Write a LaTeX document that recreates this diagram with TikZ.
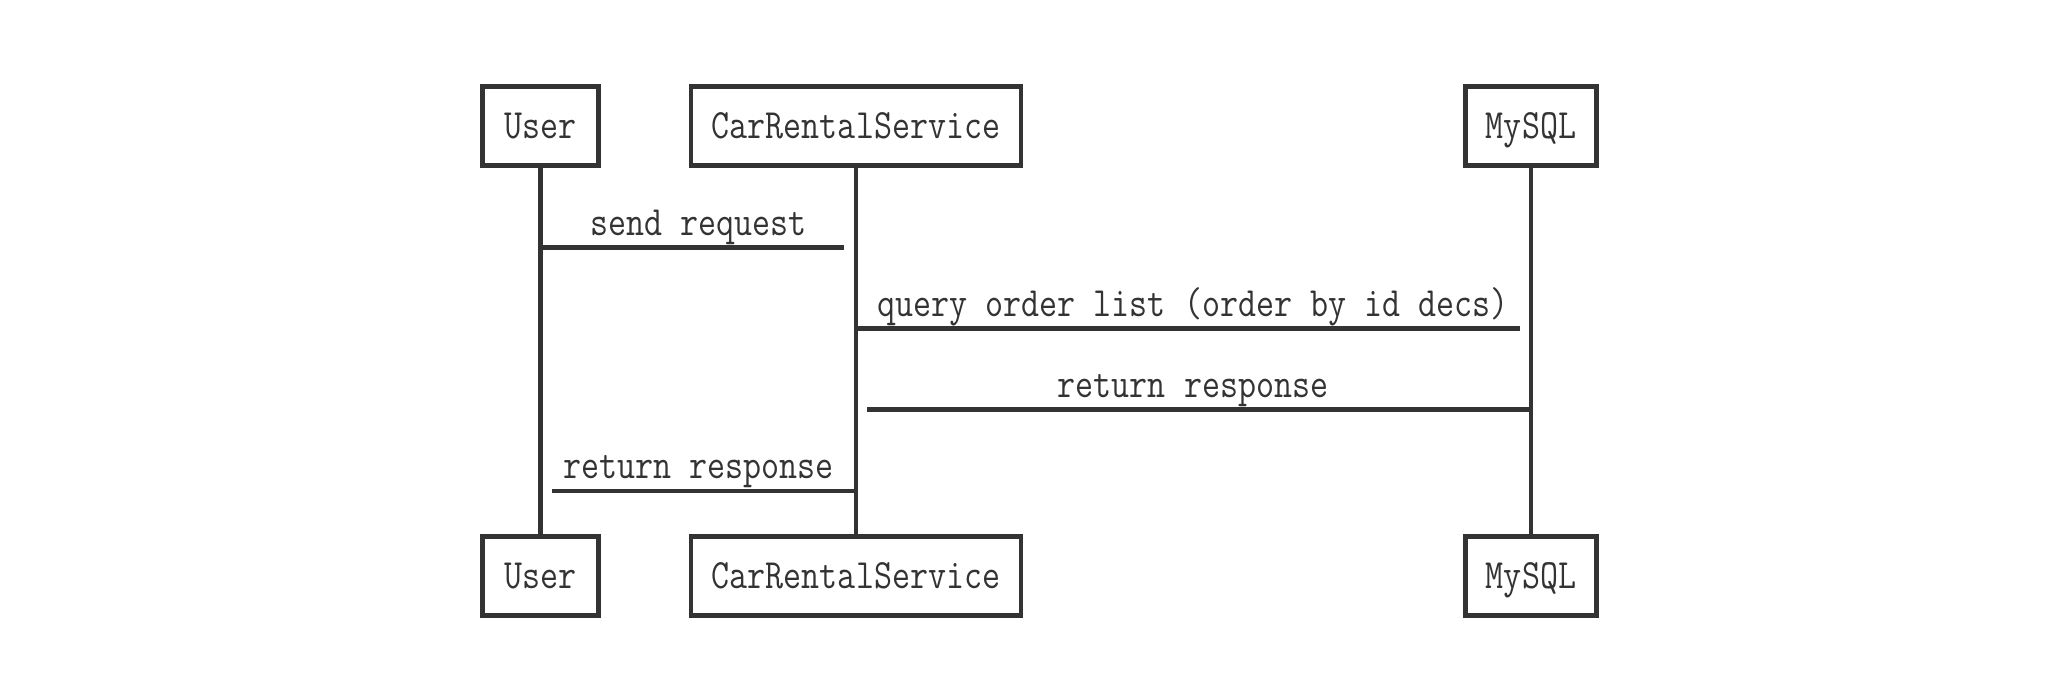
\documentclass[tikz,border=0pt]{standalone}
\usepackage{graphicx}
\definecolor{ink}{HTML}{333333}
\newcommand{\tall}[1]{\scalebox{1}[1.19]{#1}}
\begin{document}
\begin{tikzpicture}[x=0.5pt,y=-0.5pt,
  lane/.style={draw=ink, line width=2.35pt, minimum height=39.5pt, inner sep=0pt,
    text=ink, font=\fontsize{17.5}{20}\selectfont\ttfamily, text height=15pt, text depth=2.5pt},
  life/.style={draw=ink, line width=2.35pt},
  msg/.style={draw=ink, line width=2.35pt},
  lbl/.style={text=ink, font=\fontsize{17.5}{20}\selectfont\ttfamily, anchor=base, inner sep=0pt}]
\useasboundingbox (0,0) rectangle (2065,681);
% top boxes
\node[lane, minimum width=58.2pt]  (u1) at (540.5,126)  {\tall{User}};
\node[lane, minimum width=165pt]   (c1) at (856,126)  {\tall{CarRentalService}};
\node[lane, minimum width=65.8pt]  (s1) at (1531,126) {\tall{MySQL}};
% bottom boxes
\node[lane, minimum width=58.2pt]  (u2) at (540.5,576)  {\tall{User}};
\node[lane, minimum width=165pt]   (c2) at (856,576)  {\tall{CarRentalService}};
\node[lane, minimum width=65.8pt]  (s2) at (1531,576) {\tall{MySQL}};
% lifelines
\draw[life] (u1.south) -- (u2.north);
\draw[life] (c1.south) -- (c2.north);
\draw[life] (s1.south) -- (s2.north);
% message end points
\coordinate (m1a) at (540.5,247.6);  \coordinate (m1b) at (844,247.6);
\coordinate (m2a) at (856,328.5);  \coordinate (m2b) at (1520,328.5);
\coordinate (m3a) at (867,409.8);  \coordinate (m3b) at (1531,409.8);
\coordinate (m4a) at (552,491);    \coordinate (m4b) at (856,491);
\draw[msg] (m1a) -- (m1b);
\draw[msg] (m2a) -- (m2b);
\draw[msg] (m3a) -- (m3b);
\draw[msg] (m4a) -- (m4b);
% labels
\node[lbl] (t1) at (698.5,235)  {\tall{send request}};
\node[lbl] (t2) at (1193,316)   {\tall{query order list (order by id decs)}};
\node[lbl] (t3) at (1193,397.3) {\tall{return response}};
\node[lbl] (t4) at (698.5,478.5){\tall{return response}};
\end{tikzpicture}
\end{document}
